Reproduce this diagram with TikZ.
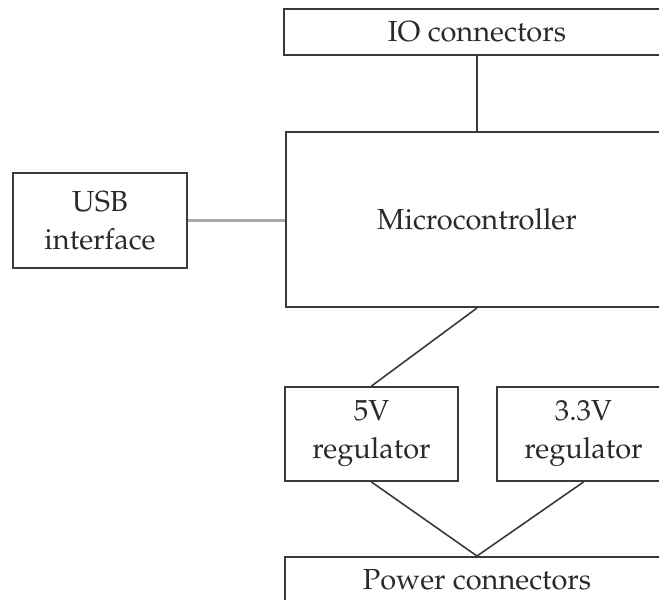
\documentclass[tikz,border=0pt]{standalone}
\usepackage[T1]{fontenc}
\usepackage{mathpazo}
\begin{document}
\begin{tikzpicture}[x=1pt,y=-1pt,
  blk/.style={draw=boxcol,line width=2pt,rectangle,inner sep=0pt,align=center,
    text=txtcol,font=\fontsize{29}{38}\selectfont},
  wire/.style={draw=boxcol,line width=1.6pt},
  usbwire/.style={draw=usbcol,line width=3pt}]
\definecolor{boxcol}{HTML}{3A3A3A}
\definecolor{txtcol}{HTML}{2A2A2A}
\definecolor{usbcol}{HTML}{A8A8A8}
\path[use as bounding box,clip] (0,0) rectangle (659,600);
\node[blk,minimum width=386pt,minimum height=46pt] (io) at (477,32) {IO connectors};
\node[blk,minimum width=382pt,minimum height=175pt] (mc) at (477,219.5) {Microcontroller};
\node[blk,minimum width=174pt,minimum height=95pt] (usb) at (100,220.5) {USB\\interface};
\node[blk,minimum width=173pt,minimum height=94pt] (v5) at (371.5,434) {5V\\regulator};
\node[blk,minimum width=173pt,minimum height=94pt] (v33) at (583.5,434) {3.3V\\regulator};
\node[blk,minimum width=384pt,minimum height=46pt] (pw) at (477,580) {Power connectors};
\draw[wire] (io.south) -- (mc.north);
\draw[usbwire] (usb.east) -- (usb.east -| mc.west);
\draw[wire] (mc.south) -- (v5.north);
\draw[wire] (v5.south) -- (pw.north);
\draw[wire] (v33.south) -- (pw.north);
\end{tikzpicture}
\end{document}
